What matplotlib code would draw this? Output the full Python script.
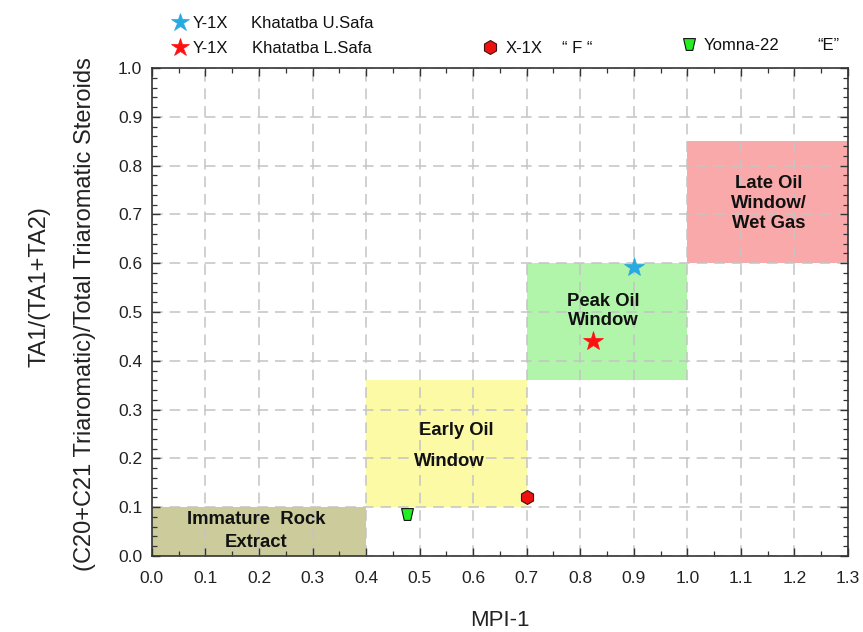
import matplotlib
matplotlib.use("Agg")
import matplotlib.pyplot as plt
from matplotlib.patches import Rectangle
from matplotlib.lines import Line2D
from matplotlib.path import Path
from matplotlib.ticker import MultipleLocator, FormatStrFormatter

plt.rcParams['font.family'] = ['Liberation Sans', 'DejaVu Sans']

# Maturity zones: (x0, x1, y0, y1), colour, label
zone_names = ["Immature  Rock\nExtract", "Early Oil", "Peak Oil\nWindow", "Late Oil\nWindow/\nWet Gas"]
zone_x0 = [0.0, 0.4, 0.7, 1.0]
zone_x1 = [0.4, 0.7, 1.0, 1.3]
zone_y0 = [0.0, 0.10, 0.36, 0.60]
zone_y1 = [0.10, 0.36, 0.60, 0.85]
zone_colors = ["#cbcb9b", "#fdfaa6", "#b0f5aa", "#f9a9a9"]

# Samples
sample_wells = ["Y-1X", "Y-1X", "X-1X", "Yomna-22"]
sample_units = ["Khatatba U.Safa", "Khatatba L.Safa", "\u201c F \u201c", "\u201cE\u201d"]
mpi1 = [0.90, 0.824, 0.700, 0.476]
ta_ratio = [0.593, 0.440, 0.121, 0.086]

trap = Path([(-1, 1), (1, 1), (0.55, -1), (-0.55, -1), (-1, 1)],
            [Path.MOVETO, Path.LINETO, Path.LINETO, Path.LINETO, Path.CLOSEPOLY])
sample_styles = [
    dict(marker="*", ms=15, mfc="#27a9e1", mec="#27a9e1", mew=0.5),
    dict(marker="*", ms=15, mfc="#ff1010", mec="#ff1010", mew=0.5),
    dict(marker="h", ms=10, mfc="#ee1111", mec="#441111", mew=0.8),
    dict(marker=trap, ms=8.5, mfc="#22ee22", mec="#111111", mew=0.8),
]

fig = plt.figure(figsize=(8.63, 6.32), dpi=100)
ax = fig.add_axes([0.176, 0.1203, 0.8066, 0.7721])

for x0, x1, y0, y1, c in zip(zone_x0, zone_x1, zone_y0, zone_y1, zone_colors):
    ax.add_patch(Rectangle((x0, y0), x1 - x0, y1 - y0, facecolor=c, edgecolor="none", zorder=1))

# zone labels
lbl = dict(ha="center", va="center", fontsize=13.3, fontweight="bold", color="#111111", zorder=4)
ax.text(0.194, 0.051, zone_names[0], linespacing=1.45, **lbl)
ax.text(0.568, 0.258, zone_names[1], **lbl)
ax.text(0.555, 0.193, "Window", **lbl)
ax.text(0.843, 0.502, zone_names[2], linespacing=1.2, **lbl)
ax.text(1.152, 0.723, zone_names[3], linespacing=1.22, **lbl)

for x, y, st in zip(mpi1, ta_ratio, sample_styles):
    ax.plot([x], [y], ls="none", zorder=5, clip_on=False, **st)

ax.set_xlim(0, 1.3)
ax.set_ylim(0, 1.0)
ax.xaxis.set_major_locator(MultipleLocator(0.1))
ax.xaxis.set_minor_locator(MultipleLocator(0.05))
ax.yaxis.set_major_locator(MultipleLocator(0.1))
ax.yaxis.set_minor_locator(MultipleLocator(0.02))
ax.xaxis.set_major_formatter(FormatStrFormatter("%.1f"))
ax.yaxis.set_major_formatter(FormatStrFormatter("%.1f"))
ax.tick_params(which="both", direction="in", top=True, right=True, color="#333333",
               labelsize=12.5, labelcolor="#222222")
ax.tick_params(which="major", length=6, width=1.0)
ax.tick_params(which="minor", length=3.5, width=0.9)
ax.tick_params(axis="x", which="major", pad=11)
ax.tick_params(axis="y", which="major", pad=7)
ax.grid(True, which="major", color="#c4c4c4", ls=(0, (7, 4.5)), lw=1.1, zorder=2)
ax.set_axisbelow(False)
for sp in ax.spines.values():
    sp.set_color("#333333")
    sp.set_linewidth(1.2)
    sp.set_zorder(6)

fig.text(0.5794, 0.0095, "MPI-1", ha="center", va="baseline", fontsize=16, color="#222222")
fig.text(0.046, 0.546, "TA1/(TA1+TA2)", rotation=90, ha="center", va="center",
         fontsize=17, color="#222222")
fig.text(0.098, 0.503, "(C20+C21 Triaromatic)/Total Triaromatic Steroids", rotation=90,
         ha="center", va="center", fontsize=17, color="#222222")

# legend above the plot
leg_marker_xy = [(0.2085, 0.965), (0.2085, 0.925), (0.568, 0.925), (0.798, 0.930)]
leg_well_x = [0.223, 0.223, 0.586, 0.815]
leg_unit_x = [0.291, 0.292, 0.651, 0.947]
leg_y = [0.963, 0.924, 0.924, 0.928]
for (mx, my), wx, ux, ty, well, unit, st in zip(leg_marker_xy, leg_well_x, leg_unit_x, leg_y,
                                               sample_wells, sample_units, sample_styles):
    st2 = dict(st)
    if st2["marker"] == "*":
        st2["ms"] = 13.5
    fig.add_artist(Line2D([mx], [my], transform=fig.transFigure, ls="none", **st2))
    fig.text(wx, ty, well, ha="left", va="center", fontsize=12, color="#111111")
    fig.text(ux, ty, unit, ha="left", va="center", fontsize=12, color="#111111")

fig.savefig("out.png", dpi=100)
